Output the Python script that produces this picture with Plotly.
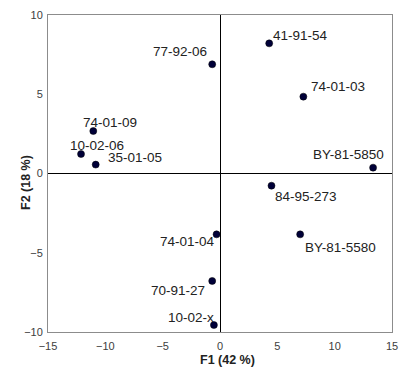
import plotly.graph_objects as go

names = ["74-01-09", "10-02-06", "35-01-05", "77-92-06", "41-91-54", "74-01-03",
         "BY-81-5850", "84-95-273", "74-01-04", "BY-81-5580", "70-91-27", "10-02-x"]
f1 = [-11.05, -12.12, -10.84, -0.68, 4.29, 7.27, 13.35, 4.49, -0.30, 6.99, -0.68, -0.53]
f2 = [2.68, 1.23, 0.56, 6.89, 8.21, 4.85, 0.37, -0.77, -3.84, -3.84, -6.78, -9.56]
x_ticks = [-15, -10, -5, 0, 5, 10, 15]
y_ticks = [-10, -5, 0, 5, 10]

# label offsets in pixels (x shift, y shift)
xshift = [16.5, 16, 39, -32.5, 31, 35, -25, 35, -29, 40.5, -34.5, -23]
yshift = [9, 9, 7, 12.6, 8, 10, 13, -11, -7, -12.7, -10, 8]

FONT = "Liberation Sans, Arial"

fig = go.Figure()
fig.add_trace(go.Scatter(
    x=f1, y=f2, mode="markers",
    marker=dict(size=7, color="#000038", line=dict(width=0.5, color="#000000")),
    showlegend=False, hoverinfo="text", text=names,
))

for n, x, y, dx, dy in zip(names, f1, f2, xshift, yshift):
    fig.add_annotation(x=x, y=y, text=n, showarrow=False, xshift=dx, yshift=dy,
                       font=dict(family=FONT, size=13.5, color="#222222"))

# axis titles
fig.add_annotation(xref="paper", yref="paper", x=0.5, y=0, yshift=-27.5, xshift=7,
                   text="<b>F1 (42 %)</b>", showarrow=False, yanchor="middle",
                   borderpad=0,
                   font=dict(family=FONT, size=12.5, color="#222222"))
fig.add_annotation(xref="paper", yref="paper", x=0, y=0.5, xshift=-22.5, yshift=-9,
                   text="<b>F2 (18 %)</b>", showarrow=False, textangle=-90,
                   xanchor="center", yanchor="middle",
                   font=dict(family=FONT, size=12.5, color="#222222"))

axis_common = dict(
    showgrid=False, zeroline=True, zerolinecolor="#000000", zerolinewidth=1,
    showline=True, linecolor="#8c8c8c", linewidth=1, mirror=True, automargin=False,
    ticks="", tickfont=dict(family=FONT, size=11, color="#404040"),
)

fig.update_layout(
    width=392, height=359,
    margin=dict(l=39.5, r=7.7, t=7, b=35),
    paper_bgcolor="white", plot_bgcolor="white",
    xaxis=dict(range=[-15, 15], tickvals=x_ticks, ticklabelstandoff=4, **axis_common),
    yaxis=dict(range=[-10, 10], tickvals=y_ticks, ticklabelstandoff=2, **axis_common),
)

fig.write_html("out.html")
